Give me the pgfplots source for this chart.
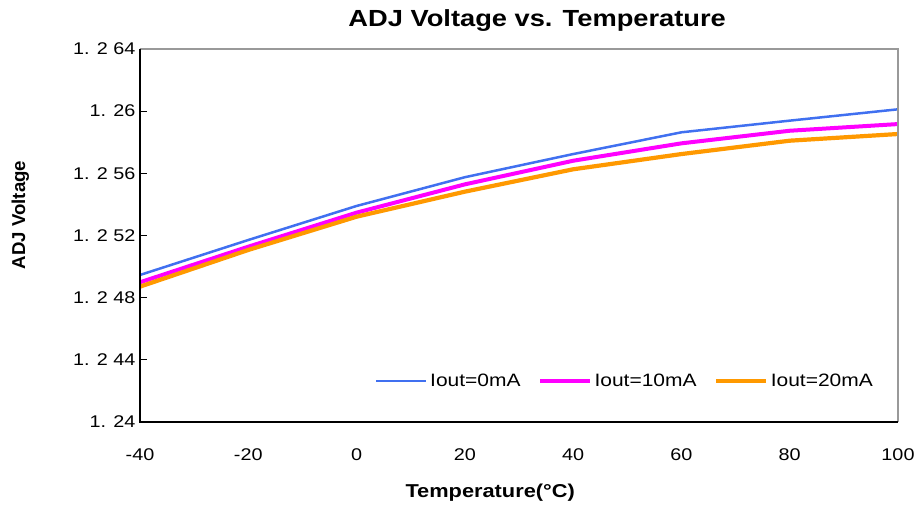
\documentclass[border=0pt]{standalone}
\usepackage{fontspec}
\setmainfont{Liberation Sans}[FakeStretch=1.17]
\newfontfamily\ylfont{Liberation Sans}
\usepackage{pgfplots}
\pgfplotsset{compat=1.18}

\definecolor{cblue}{RGB}{64,112,240}
\definecolor{cmag}{RGB}{255,0,255}
\definecolor{corange}{RGB}{255,153,0}

\begin{document}
\begin{tikzpicture}
\useasboundingbox (-140bp,-87bp) rectangle (776bp,422bp);
\begin{axis}[
    at={(0,0)}, anchor=south west,
    scale only axis,
    width=758bp, height=373bp,
    xmin=-40, xmax=100,
    ymin=1.24, ymax=1.264,
    xtick={-40,-20,0,20,40,60,80,100},
    xticklabels={-40,-20,0,20,40,60,80,100},
    ytick={1.24,1.244,1.248,1.252,1.256,1.26,1.264},
    yticklabels={{1. 24},{1. 2 44},{1. 2 48},{1. 2 52},{1. 2 56},{1. 26},{1. 2 64}},
    ticklabel style={font=\fontsize{17}{20}\selectfont},
    xticklabel style={yshift=-23bp},
    yticklabel style={xshift=-1bp},
    xtick style={draw=none},
    ytick style={black, line width=1bp},
    ytick pos=left,
    tick align=inside,
    major tick length=7bp,
    axis line style={draw=none},
    title={ADJ Voltage vs. Temperature},
    title style={font=\fontsize{23.4}{28}\selectfont\bfseries, anchor=center,
        at={(rel axis cs:0.524,1)}, yshift=22bp},
    xlabel={Temperature(°C)},
    xlabel style={font=\fontsize{18.7}{22}\selectfont\bfseries, anchor=center,
        at={(rel axis cs:0.462,0)}, yshift=-71bp},
    ylabel={\ylfont\bfseries ADJ Voltage},
    ylabel style={font=\fontsize{18.7}{22}\selectfont, anchor=center,
        at={(rel axis cs:-0.158,0.555)}},
    legend columns=-1,
    legend style={draw=none, fill=none, at={(rel axis cs:0.310,0.110)}, anchor=west,
        inner sep=0pt, font=\fontsize{18}{21}\selectfont,
        nodes={inner sep=2.5bp},
        /tikz/every even column/.append style={column sep=15bp}},
    legend image code/.code={\draw[#1] (0bp,0bp) -- (50bp,0bp);},
    clip=false,
]
\addplot[cblue, line width=2.5bp] coordinates {
(-40,1.24946)(-20,1.25171)(0,1.25390)(20,1.25575)(40,1.25724)(60,1.25864)(80,1.25939)(100,1.26012)
};
\addlegendentry{Iout=0mA}
\addplot[cmag, line width=4bp] coordinates {
(-40,1.24899)(-20,1.25128)(0,1.25347)(20,1.25529)(40,1.25681)(60,1.25793)(80,1.25874)(100,1.25917)
};
\addlegendentry{Iout=10mA}
\addplot[corange, line width=4.2bp] coordinates {
(-40,1.24871)(-20,1.25107)(0,1.25321)(20,1.25482)(40,1.25626)(60,1.25724)(80,1.25810)(100,1.25853)
};
\addlegendentry{Iout=20mA}
\draw[gray!80, line width=1.5bp] (rel axis cs:0,1) -- (rel axis cs:1,1) -- (rel axis cs:1,0);
\draw[black, line width=1.5bp] (rel axis cs:0,1) -- (rel axis cs:0,0) -- (rel axis cs:1,0);
\end{axis}
\end{tikzpicture}
\end{document}
